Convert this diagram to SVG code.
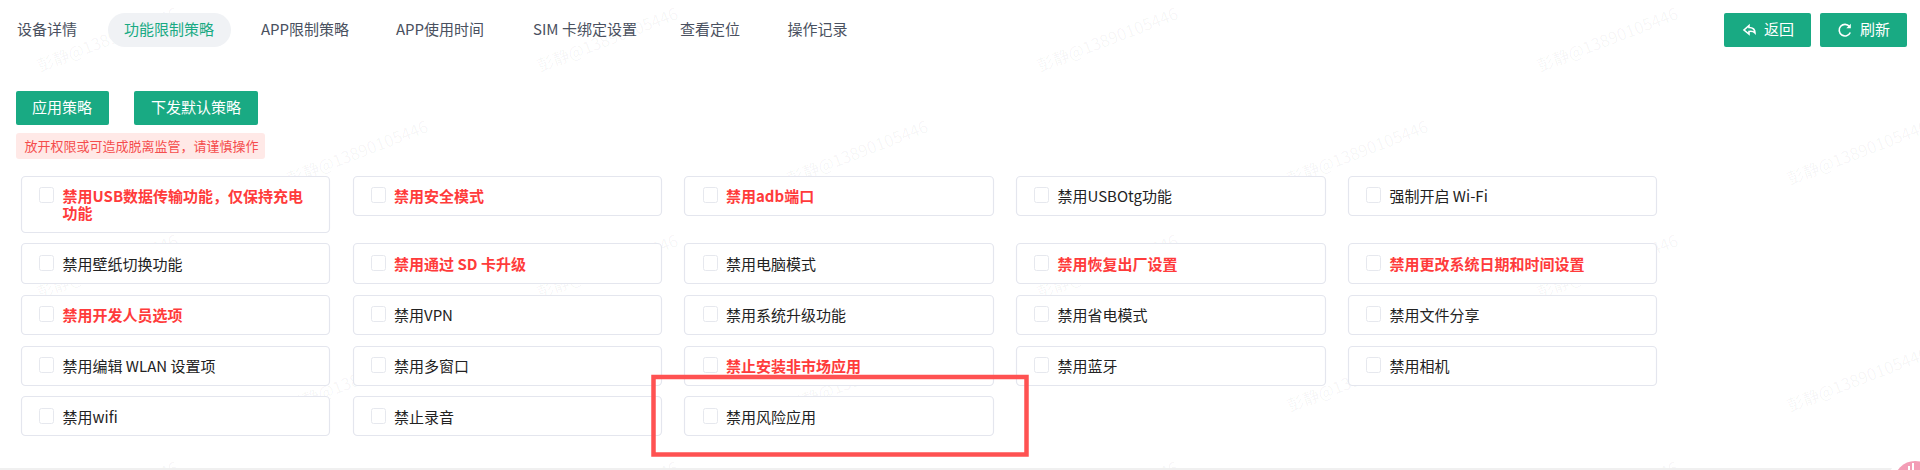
<svg xmlns="http://www.w3.org/2000/svg" width="1920" height="470" viewBox="0 0 1920 470">
<style>
text{font-family:"Microsoft YaHei","Noto Sans CJK SC","Noto Sans",sans-serif;font-size:15px;fill:#222}
.tab{fill:#4a5160}
.on{fill:#19aa83}
.wm{font-size:16.5px;fill:#000;fill-opacity:.045}
.btn{fill:#19aa83}
.bt{fill:#fff}
.card{fill:#fff;stroke:#e4e6ee;stroke-width:1.2}
.cb{fill:#fff;stroke:#e6e8ee;stroke-width:1}
.r{fill:#ff3b3b;font-weight:700}
.ic{fill:none;stroke:#fff;stroke-width:1.6}
</style>
<rect width="1920" height="470" fill="#fff"/>
<g id="watermarks">
<text class="wm" transform="translate(40,72) rotate(-21)">彭静@13890105446</text>
<text class="wm" transform="translate(540,72) rotate(-21)">彭静@13890105446</text>
<text class="wm" transform="translate(1040,72) rotate(-21)">彭静@13890105446</text>
<text class="wm" transform="translate(1540,72) rotate(-21)">彭静@13890105446</text>
<text class="wm" transform="translate(290,185) rotate(-21)">彭静@13890105446</text>
<text class="wm" transform="translate(790,185) rotate(-21)">彭静@13890105446</text>
<text class="wm" transform="translate(1290,185) rotate(-21)">彭静@13890105446</text>
<text class="wm" transform="translate(1790,185) rotate(-21)">彭静@13890105446</text>
<text class="wm" transform="translate(40,299) rotate(-21)">彭静@13890105446</text>
<text class="wm" transform="translate(540,299) rotate(-21)">彭静@13890105446</text>
<text class="wm" transform="translate(1040,299) rotate(-21)">彭静@13890105446</text>
<text class="wm" transform="translate(1540,299) rotate(-21)">彭静@13890105446</text>
<text class="wm" transform="translate(290,412) rotate(-21)">彭静@13890105446</text>
<text class="wm" transform="translate(790,412) rotate(-21)">彭静@13890105446</text>
<text class="wm" transform="translate(1290,412) rotate(-21)">彭静@13890105446</text>
<text class="wm" transform="translate(1790,412) rotate(-21)">彭静@13890105446</text>
<text class="wm" transform="translate(40,526) rotate(-21)">彭静@13890105446</text>
<text class="wm" transform="translate(540,526) rotate(-21)">彭静@13890105446</text>
<text class="wm" transform="translate(1040,526) rotate(-21)">彭静@13890105446</text>
<text class="wm" transform="translate(1540,526) rotate(-21)">彭静@13890105446</text>
</g>
<g id="tabs">
<rect x="108" y="13" width="123" height="34" rx="17" fill="#f0f2f5"/>
<text class="tab" x="17" y="35">设备详情</text>
<text class="on" x="124" y="35">功能限制策略</text>
<text class="tab" x="261" y="35">APP限制策略</text>
<text class="tab" x="396" y="35">APP使用时间</text>
<text class="tab" x="533" y="35">SIM 卡绑定设置</text>
<text class="tab" x="680" y="35">查看定位</text>
<text class="tab" x="787.5" y="35">操作记录</text>
</g>
<g id="btn-back">
<rect class="btn" x="1724" y="13" width="87" height="34" rx="2"/>
<path class="ic" d="M1749 25.500l-5 4.500 5 4v-2.500c2.500-.5 4.500 0 6 1.500c0-3.500-2.500-5.500-6-5.500z"/>
<text class="bt" x="1764" y="35">返回</text>
</g>
<g id="btn-refresh">
<rect class="btn" x="1820" y="13" width="87" height="34" rx="2"/>
<path class="ic" d="M1849.500 26.500a5.800 5.800 0 1 0 .8 6"/>
<path d="M1850.800 23.800v4.500h-4.500z" fill="#fff"/>
<text class="bt" x="1860" y="35">刷新</text>
</g>
<g id="btn-apply">
<rect class="btn" x="16" y="91" width="93" height="34" rx="2"/>
<text class="bt" x="32" y="113">应用策略</text>
</g>
<g id="btn-default">
<rect class="btn" x="134" y="91" width="124" height="34" rx="2"/>
<text class="bt" x="151" y="113">下发默认策略</text>
</g>
<g id="alert">
<rect x="16" y="133" width="249" height="26" rx="3" fill="#ffe9e7"/>
<text x="24.500" y="150.500" style="font-size:13px;fill:#f54d4d">放开权限或可造成脱离监管，请谨慎操作</text>
</g>
<g id="c1-1"><rect class="card" x="21.500" y="176.500" width="308" height="56" rx="4"/><rect class="cb" x="39.500" y="187.500" width="14" height="15" rx="2"/><text class="r" x="62.500" y="201.500">禁用USB数据传输功能，仅保持充电</text><text class="r" x="62.500" y="218.500">功能</text></g>
<g id="c1-2"><rect class="card" x="353.500" y="176.500" width="308" height="39" rx="4"/><rect class="cb" x="371.500" y="187.500" width="14" height="15" rx="2"/><text class="r" x="394" y="201.500">禁用安全模式</text></g>
<g id="c1-3"><rect class="card" x="684.500" y="176.500" width="309" height="39" rx="4"/><rect class="cb" x="703.500" y="187.500" width="14" height="15" rx="2"/><text class="r" x="726" y="201.500">禁用adb端口</text></g>
<g id="c1-4"><rect class="card" x="1016.500" y="176.500" width="309" height="39" rx="4"/><rect class="cb" x="1034.500" y="187.500" width="14" height="15" rx="2"/><text x="1057.500" y="201.500">禁用USBOtg功能</text></g>
<g id="c1-5"><rect class="card" x="1348.500" y="176.500" width="308" height="39" rx="4"/><rect class="cb" x="1366.500" y="187.500" width="14" height="15" rx="2"/><text x="1389.500" y="201.500">强制开启 Wi-Fi</text></g>
<g id="c2-1"><rect class="card" x="21.500" y="243.500" width="308" height="40" rx="4"/><rect class="cb" x="39.500" y="255.500" width="14" height="15" rx="2"/><text x="62.500" y="269.500">禁用壁纸切换功能</text></g>
<g id="c2-2"><rect class="card" x="353.500" y="243.500" width="308" height="40" rx="4"/><rect class="cb" x="371.500" y="255.500" width="14" height="15" rx="2"/><text class="r" x="394" y="269.500">禁用通过 SD 卡升级</text></g>
<g id="c2-3"><rect class="card" x="684.500" y="243.500" width="309" height="40" rx="4"/><rect class="cb" x="703.500" y="255.500" width="14" height="15" rx="2"/><text x="726" y="269.500">禁用电脑模式</text></g>
<g id="c2-4"><rect class="card" x="1016.500" y="243.500" width="309" height="40" rx="4"/><rect class="cb" x="1034.500" y="255.500" width="14" height="15" rx="2"/><text class="r" x="1057.500" y="269.500">禁用恢复出厂设置</text></g>
<g id="c2-5"><rect class="card" x="1348.500" y="243.500" width="308" height="40" rx="4"/><rect class="cb" x="1366.500" y="255.500" width="14" height="15" rx="2"/><text class="r" x="1389.500" y="269.500">禁用更改系统日期和时间设置</text></g>
<g id="c3-1"><rect class="card" x="21.500" y="295.500" width="308" height="39" rx="4"/><rect class="cb" x="39.500" y="306.500" width="14" height="15" rx="2"/><text class="r" x="62.500" y="320.500">禁用开发人员选项</text></g>
<g id="c3-2"><rect class="card" x="353.500" y="295.500" width="308" height="39" rx="4"/><rect class="cb" x="371.500" y="306.500" width="14" height="15" rx="2"/><text x="394" y="320.500">禁用VPN</text></g>
<g id="c3-3"><rect class="card" x="684.500" y="295.500" width="309" height="39" rx="4"/><rect class="cb" x="703.500" y="306.500" width="14" height="15" rx="2"/><text x="726" y="320.500">禁用系统升级功能</text></g>
<g id="c3-4"><rect class="card" x="1016.500" y="295.500" width="309" height="39" rx="4"/><rect class="cb" x="1034.500" y="306.500" width="14" height="15" rx="2"/><text x="1057.500" y="320.500">禁用省电模式</text></g>
<g id="c3-5"><rect class="card" x="1348.500" y="295.500" width="308" height="39" rx="4"/><rect class="cb" x="1366.500" y="306.500" width="14" height="15" rx="2"/><text x="1389.500" y="320.500">禁用文件分享</text></g>
<g id="c4-1"><rect class="card" x="21.500" y="346.500" width="308" height="39" rx="4"/><rect class="cb" x="39.500" y="357.500" width="14" height="15" rx="2"/><text x="62.500" y="371.500">禁用编辑 WLAN 设置项</text></g>
<g id="c4-2"><rect class="card" x="353.500" y="346.500" width="308" height="39" rx="4"/><rect class="cb" x="371.500" y="357.500" width="14" height="15" rx="2"/><text x="394" y="371.500">禁用多窗口</text></g>
<g id="c4-3"><rect class="card" x="684.500" y="346.500" width="309" height="39" rx="4"/><rect class="cb" x="703.500" y="357.500" width="14" height="15" rx="2"/><text class="r" x="726" y="371.500">禁止安装非市场应用</text></g>
<g id="c4-4"><rect class="card" x="1016.500" y="346.500" width="309" height="39" rx="4"/><rect class="cb" x="1034.500" y="357.500" width="14" height="15" rx="2"/><text x="1057.500" y="371.500">禁用蓝牙</text></g>
<g id="c4-5"><rect class="card" x="1348.500" y="346.500" width="308" height="39" rx="4"/><rect class="cb" x="1366.500" y="357.500" width="14" height="15" rx="2"/><text x="1389.500" y="371.500">禁用相机</text></g>
<g id="c5-1"><rect class="card" x="21.500" y="396.500" width="308" height="39" rx="4"/><rect class="cb" x="39.500" y="408.500" width="14" height="15" rx="2"/><text x="62.500" y="422.500">禁用wifi</text></g>
<g id="c5-2"><rect class="card" x="353.500" y="396.500" width="308" height="39" rx="4"/><rect class="cb" x="371.500" y="408.500" width="14" height="15" rx="2"/><text x="394" y="422.500">禁止录音</text></g>
<g id="c5-3"><rect class="card" x="684.500" y="396.500" width="309" height="39" rx="4"/><rect class="cb" x="703.500" y="408.500" width="14" height="15" rx="2"/><text x="726" y="422.500">禁用风险应用</text></g>
<g id="highlight"><rect x="653.500" y="377" width="373" height="77.500" fill="none" stroke="#ff5252" stroke-width="4.500"/></g>
<g id="footer">
<rect x="0" y="468" width="1920" height="2" fill="#f0f0f0"/>
<circle cx="1915" cy="482" r="27" fill="#fff"/>
<circle cx="1915" cy="482" r="21" fill="#f39db6"/>
<path d="M1909 466v4M1913 463v7" stroke="#fff" stroke-width="2" fill="none"/>
</g>
</svg>
